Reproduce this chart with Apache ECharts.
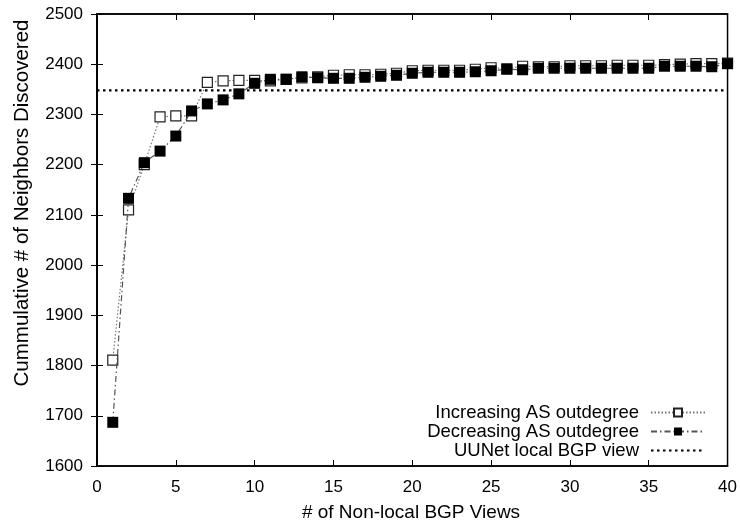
<!DOCTYPE html>
<html><head><meta charset="utf-8">
<script src="https://cdn.jsdelivr.net/npm/echarts@6/dist/echarts.min.js"></script>
<style>html,body{margin:0;padding:0;background:#fff}#c{width:740px;height:527px}</style>
</head><body><div id="c"></div>
<script>
var views = [1,2,3,4,5,6,7,8,9,10,11,12,13,14,15,16,17,18,19,20,21,22,23,24,25,26,27,28,29,30,31,32,33,34,35,36,37,38,39,40];
var increasing = [1811,2110,2200,2295,2297,2297,2364,2367,2368,2368,2367,2370,2373,2375,2378,2379,2379,2380,2382,2387,2388,2388,2388,2390,2393,2391,2396,2395,2395,2397,2397,2397,2398,2398,2398,2399,2400,2401,2401,2402];
var decreasing = [1687,2133,2204,2227,2257,2307,2321,2329,2341,2362,2370,2370,2375,2373,2372,2372,2374,2376,2378,2382,2384,2384,2384,2385,2387,2390,2389,2392,2392,2392,2392,2392,2392,2392,2392,2396,2396,2396,2395,2401];
var uunetValue = 2348;
var xRange = [0, 40];
var yRange = [1600, 2500];
var seriesNames = ['Increasing AS outdegree', 'Decreasing AS outdegree', 'UUNet local BGP view'];
var xTitle = '# of Non-local BGP Views';
var yTitle = 'Cummulative # of Neighbors Discovered';

function pairs(xs, ys){ return xs.map(function(x,i){return [x, ys[i]];}); }

var FONT = 'Liberation Sans';
var chart = echarts.init(document.getElementById('c'));
var axisCommon = {
  axisLine:{show:true, lineStyle:{color:'#000', width:1.5}},
  axisTick:{show:true, inside:true, length:6, lineStyle:{color:'#000', width:1}},
  splitLine:{show:false}
};
chart.setOption({
  animation:false,
  backgroundColor:'#fff',
  grid:{left:97, right:12, top:14, bottom:61, show:true, borderColor:'#000', borderWidth:1.5},
  xAxis:[
    Object.assign({type:'value', min:xRange[0], max:xRange[1], interval:5, position:'bottom',
      axisLabel:{color:'#000', fontFamily:FONT, fontSize:17, margin:13, formatter:function(v){return String(v);}}}, axisCommon),
    Object.assign({type:'value', min:xRange[0], max:xRange[1], interval:5, position:'top',
      axisLabel:{show:false}}, axisCommon)
  ],
  yAxis:[
    Object.assign({type:'value', min:yRange[0], max:yRange[1], interval:100, position:'left',
      axisLabel:{color:'#000', fontFamily:FONT, fontSize:17, margin:14, formatter:function(v){return String(v);}}}, axisCommon),
    Object.assign({type:'value', min:yRange[0], max:yRange[1], interval:100, position:'right',
      axisLabel:{show:false}}, axisCommon)
  ],
  legend:{
    orient:'vertical', right:29, top:398, align:'right', itemGap:0, itemWidth:54, itemHeight:10,
    textStyle:{color:'#000', fontFamily:FONT, fontSize:18.5, lineHeight:19, padding:[0,7,0,0]},
    data:seriesNames
  },
  graphic:[
    {type:'text', z:10, x:22, y:203, rotation:Math.PI/2,
     style:{text:yTitle, fill:'#000', font:'20.5px "Liberation Sans"', align:'center', verticalAlign:'middle'}},
    {type:'text', z:10, x:411, y:513,
     style:{text:xTitle, fill:'#000', font:'19px "Liberation Sans"', align:'center', verticalAlign:'middle'}}
  ],
  series:[
    {name:seriesNames[0], type:'line', data:pairs(views, increasing), symbol:'rect', symbolSize:10,
     itemStyle:{color:'#fff', borderColor:'#222', borderWidth:1.2},
     lineStyle:{color:'#777', width:1.2, type:[1.5,2]}, z:3},
    {name:seriesNames[1], type:'line', data:pairs(views, decreasing), symbol:'rect', symbolSize:11,
     itemStyle:{color:'#000', borderColor:'#000', borderWidth:0},
     lineStyle:{color:'#555', width:1.2, type:[6,3,1.5,3]}, z:4},
    {name:seriesNames[2], type:'line', data:pairs(xRange, [uunetValue, uunetValue]), symbol:'none',
     itemStyle:{color:'rgba(0,0,0,0)'},
     lineStyle:{color:'#000', width:2.2, type:[2.5,3.5]}, z:2}
  ]
});
</script></body></html>
